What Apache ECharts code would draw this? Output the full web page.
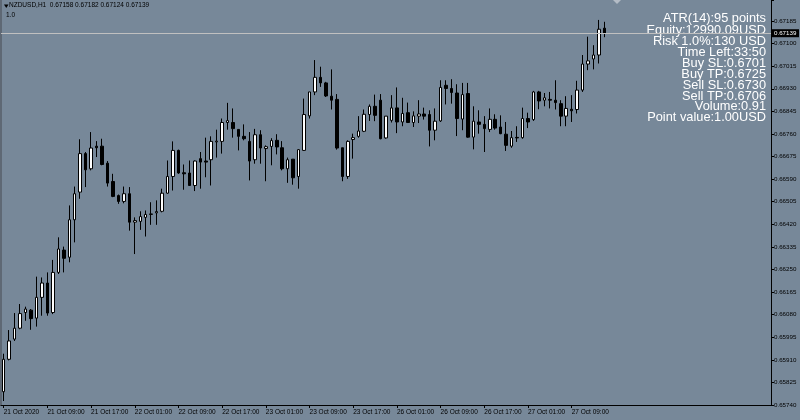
<!DOCTYPE html>
<html><head><meta charset="utf-8">
<script src="https://cdn.jsdelivr.net/npm/echarts/dist/echarts.min.js"></script>
<style>html,body{margin:0;padding:0;background:#778899}#c{width:800px;height:420px}</style>
</head><body><div id="c"></div><script>
const symbolTitle = 'NZDUSD,H1  0.67158 0.67182 0.67124 0.67139';
const subTitle = '1.0';
const tickLabels = ['21 Oct 2020','21 Oct 09:00','21 Oct 17:00','22 Oct 01:00','22 Oct 09:00','22 Oct 17:00','23 Oct 01:00','23 Oct 09:00','23 Oct 17:00','26 Oct 01:00','26 Oct 09:00','26 Oct 17:00','27 Oct 01:00','27 Oct 09:00'];
const barsPerLabel = 8;
const totalSlots = 141;
const opens = [0.65790,0.65912,0.65988,0.66029,0.66088,0.66097,0.66067,0.66145,0.66199,0.66088,
0.66239,0.66323,0.66296,0.66437,0.66541,0.66686,0.66629,0.66714,0.66714,0.66650,
0.66581,0.66528,0.66506,0.66535,0.66428,0.66431,0.66446,0.66457,0.66463,0.66469,
0.66537,0.66600,0.66698,0.66614,0.66613,0.66566,0.66667,0.66658,0.66663,0.66730,
0.66732,0.66803,0.66803,0.66777,0.66751,0.66732,0.66663,0.66757,0.66705,0.66713,
0.66736,0.66708,0.66629,0.66665,0.66600,0.66698,0.66828,0.66918,0.66973,0.66952,
0.66902,0.66890,0.66708,0.66600,0.66739,0.66751,0.66770,0.66833,0.66864,0.66887,
0.66745,0.66811,0.66858,0.66805,0.66840,0.66803,0.66827,0.66835,0.66833,0.66774,
0.66809,0.66943,0.66931,0.66914,0.66816,0.66912,0.66748,0.66805,0.66796,0.66777,
0.66815,0.66786,0.66759,0.66714,0.66747,0.66746,0.66818,0.66814,0.66918,0.66887,
0.66890,0.66887,0.66874,0.66827,0.66853,0.66852,0.66925,0.67023,0.67042,0.67057,
0.67158];
const highs = [0.65933,0.66022,0.66086,0.66120,0.66110,0.66101,0.66223,0.66220,0.66239,0.66286,
0.66371,0.66336,0.66491,0.66562,0.66740,0.66692,0.66767,0.66733,0.66742,0.66658,
0.66610,0.66532,0.66562,0.66560,0.66446,0.66469,0.66472,0.66503,0.66510,0.66554,
0.66660,0.66732,0.66701,0.66645,0.66660,0.66660,0.66692,0.66746,0.66751,0.66776,
0.66818,0.66877,0.66856,0.66777,0.66796,0.66767,0.66779,0.66774,0.66717,0.66744,
0.66759,0.66733,0.66671,0.66665,0.66703,0.66893,0.66918,0.67038,0.67013,0.66956,
0.67003,0.66910,0.66708,0.66736,0.66761,0.66827,0.66852,0.66871,0.66908,0.66910,
0.66827,0.66906,0.66935,0.66896,0.66878,0.66845,0.66887,0.66859,0.66849,0.66856,
0.66962,0.66962,0.66966,0.66947,0.66952,0.66952,0.66864,0.66849,0.66827,0.66856,
0.66834,0.66830,0.66805,0.66771,0.66789,0.66859,0.66840,0.66922,0.66922,0.66914,
0.66918,0.66962,0.66887,0.66902,0.66906,0.66960,0.67057,0.67126,0.67094,0.67189,
0.67182];
const lows = [0.65755,0.65908,0.65981,0.66025,0.66057,0.66023,0.66035,0.66076,0.66076,0.66082,
0.66233,0.66239,0.66277,0.66352,0.66516,0.66560,0.66623,0.66673,0.66642,0.66562,
0.66522,0.66497,0.66499,0.66396,0.66308,0.66399,0.66374,0.66418,0.66418,0.66465,
0.66535,0.66547,0.66610,0.66550,0.66566,0.66545,0.66554,0.66597,0.66566,0.66671,
0.66686,0.66776,0.66746,0.66698,0.66736,0.66585,0.66648,0.66648,0.66582,0.66642,
0.66683,0.66623,0.66576,0.66569,0.66554,0.66696,0.66818,0.66906,0.66937,0.66899,
0.66852,0.66701,0.66582,0.66591,0.66667,0.66746,0.66767,0.66809,0.66808,0.66740,
0.66742,0.66803,0.66763,0.66789,0.66801,0.66786,0.66801,0.66814,0.66713,0.66736,
0.66805,0.66871,0.66874,0.66752,0.66774,0.66746,0.66702,0.66761,0.66692,0.66767,
0.66776,0.66759,0.66696,0.66708,0.66730,0.66742,0.66782,0.66809,0.66853,0.66864,
0.66856,0.66852,0.66789,0.66789,0.66805,0.66837,0.66918,0.67000,0.67003,0.67025,
0.67124];
const closes = [0.65912,0.65981,0.66029,0.66084,0.66101,0.66065,0.66145,0.66199,0.66086,0.66239,
0.66327,0.66292,0.66437,0.66535,0.66686,0.66625,0.66707,0.66708,0.66645,0.66575,
0.66525,0.66506,0.66535,0.66428,0.66434,0.66449,0.66457,0.66459,0.66468,0.66537,
0.66600,0.66698,0.66613,0.66610,0.66566,0.66658,0.66654,0.66654,0.66732,0.66733,
0.66803,0.66810,0.66780,0.66751,0.66742,0.66658,0.66757,0.66707,0.66712,0.66735,
0.66711,0.66629,0.66663,0.66595,0.66701,0.66833,0.66918,0.66973,0.66952,0.66903,
0.66887,0.66707,0.66600,0.66732,0.66746,0.66771,0.66834,0.66864,0.66830,0.66742,
0.66827,0.66858,0.66805,0.66837,0.66803,0.66828,0.66835,0.66827,0.66774,0.66808,
0.66935,0.66931,0.66916,0.66818,0.66908,0.66748,0.66808,0.66796,0.66780,0.66815,
0.66782,0.66761,0.66717,0.66746,0.66745,0.66818,0.66805,0.66918,0.66884,0.66896,
0.66887,0.66878,0.66827,0.66856,0.66847,0.66925,0.67023,0.67035,0.67057,0.67154,
0.67139];
const lastPrice = 0.67139;
const infoLines = ['ATR(14):95 points','Equity:12990.09USD','Risk 1.0%:130 USD','Time Left:33:50','Buy SL:0.6701','Buy TP:0.6725','Sell SL:0.6730','Sell TP:0.6706','Volume:0.91','Point value:1.00USD'];
const yMin = 0.65740, yMax = 0.67264, yStep = 0.00085, yLabelTop = 0.67185;

const categories = [];
for (let i = 0; i < totalSlots; i++) {
  const k = i / barsPerLabel;
  categories.push(Number.isInteger(k) && k < tickLabels.length ? tickLabels[k] : '');
}
const ohlc = opens.map((o, i) => [o, closes[i], lows[i], highs[i]]);
const showIdx = (i, v) => v !== '';

const chart = echarts.init(document.getElementById('c'), null, {renderer:'canvas'});
chart.setOption({
  backgroundColor:'#778899',
  animation:false,
  grid:{left:1, right:29, top:0, bottom:15},
  xAxis:{type:'category', data:categories, boundaryGap:true,
    axisLine:{show:true, lineStyle:{color:'#000', width:1}},
    axisTick:{show:true, alignWithLabel:true, interval:showIdx, length:3, lineStyle:{color:'#000'}},
    axisLabel:{interval:showIdx, align:'left', color:'#000', fontSize:6.5, fontFamily:'Liberation Sans', margin:4},
    splitLine:{show:false}},
  yAxis:{type:'value', position:'right', min:yMin, max:yMax, interval:yStep, scale:true,
    axisLine:{show:true, lineStyle:{color:'#000', width:1}},
    axisTick:{show:true, length:3, lineStyle:{color:'#000'}},
    axisLabel:{color:'#000', fontSize:6.2, fontFamily:'Liberation Sans', margin:3, showMaxLabel:true, showMinLabel:true, hideOverlap:false,
      formatter:v => (v > yLabelTop + 1e-7 ? '' : v.toFixed(5))},
    splitLine:{show:false}},
  series:[{
    type:'candlestick', data:ohlc, barWidth:3,
    itemStyle:{color:'#ffffff', color0:'#000000', borderColor:'#000000', borderColor0:'#000000', borderColorDoji:'#000000', borderWidth:1},
    markLine:{symbol:['none','none'], silent:true, precision:5,
      lineStyle:{color:'#c0c0c0', type:'solid', width:1},
      label:{show:false},
      data:[{yAxis:lastPrice}]}
  }]
});

const priceY = chart.convertToPixel({yAxisIndex:0}, lastPrice);
const infoY = [18, 30.3, 41.7, 52.6, 63.4, 74.3, 85.2, 96, 106.9, 117.7];
const graphics = [
  {type:'rect', shape:{x:0,y:0,width:2,height:406}, style:{fill:'#5e6874'}},
  {type:'polygon', shape:{points:[[4,4.5],[8.5,4.5],[6.25,8]]}, style:{fill:'#000'}},
  {type:'text', left:9, top:2, style:{text:symbolTitle, fill:'#000', font:'6.5px "Liberation Sans"'}},
  {type:'text', left:6, top:12, style:{text:subTitle, fill:'#000', font:'6.5px "Liberation Sans"'}},
  {type:'polygon', shape:{points:[[613,0],[621,0],[617,4]]}, style:{fill:'#b4bcc6'}},
  {type:'rect', shape:{x:772, y:priceY-4, width:27, height:8}, style:{fill:'#000'}, z:10},
  {type:'text', x:774, y:priceY, style:{text:lastPrice.toFixed(5), fill:'#fff', font:'6.2px "Liberation Sans"', textVerticalAlign:'middle'}, z:11}
];
infoLines.forEach((t, i) => {
  graphics.push({type:'text', x:766, y:infoY[i], style:{text:t, fill:'#fff', font:'12.8px "Liberation Sans"', textAlign:'right', textVerticalAlign:'middle'}});
});
chart.setOption({graphic:graphics});
</script></body></html>
